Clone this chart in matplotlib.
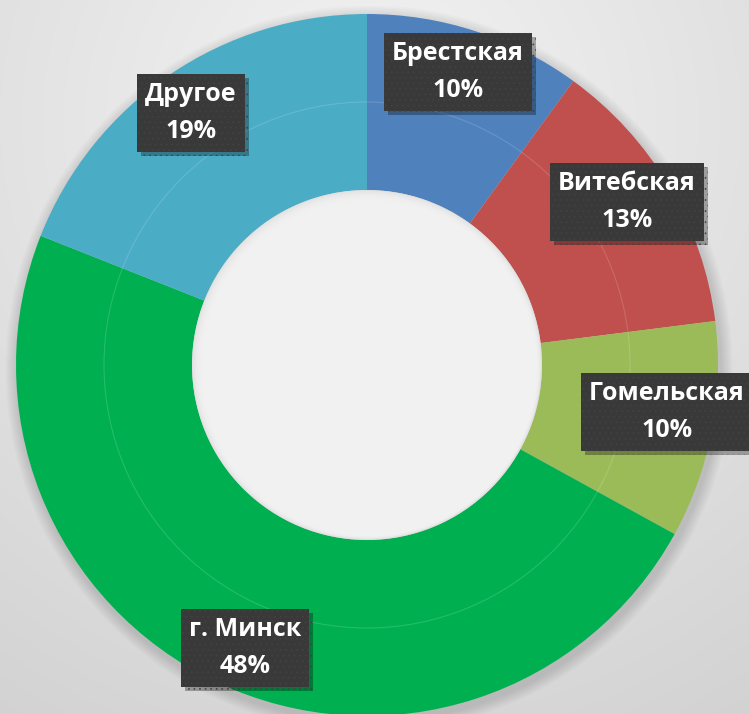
import numpy as np
import matplotlib.pyplot as plt
from matplotlib import patheffects
from matplotlib.patches import Circle

# data
regions = ['Брестская', 'Витебская', 'Гомельская', 'г. Минск', 'Другое']
shares = [10, 13, 10, 48, 19]
colors = ['#4F81BD', '#C0504D', '#9BBB59', '#00B050', '#4BACC6']

# label box centres, pixel coords (y from top)
label_pos = [(458, 72), (627, 202), (667, 412), (245, 648), (191, 113)]

W, H = 749, 714
cx, cy = 367, H - 365
R, r_in = 351, 175

fig = plt.figure(figsize=(W / 100, H / 100), dpi=100)
ax = fig.add_axes([0, 0, 1, 1])

# background gradient
yy, xx = np.mgrid[0:H, 0:W]
d = np.sqrt(((xx - 370) / 700.0) ** 2 + ((yy - 120) / 700.0) ** 2)
g = 0.955 - 0.13 * np.clip(d, 0, 1)
bg = np.dstack([g, g, g])
ax.imshow(bg, extent=[0, W, 0, H], origin='upper', zorder=0)

# soft shadow behind the ring
for k in range(8):
    ax.add_patch(Circle((cx + 2, cy - 4), R + 2 + k * 1.5, color='black',
                        alpha=0.015, lw=0, zorder=1))

wedges, _ = ax.pie(shares, colors=colors, startangle=90, counterclock=False,
                   radius=R, center=(cx, cy),
                   wedgeprops=dict(width=R - r_in, linewidth=0))
for w in wedges:
    w.set_zorder(2)

# faint boundary of inner / outer ring
ax.add_patch(Circle((cx, cy), 263, fill=False, ec='white', lw=0.8,
                    alpha=0.15, zorder=3))

# hole with slight inner shading
ax.add_patch(Circle((cx, cy), r_in, color='#e0e0e0', lw=0, zorder=3))
for k in range(10):
    ax.add_patch(Circle((cx + 0.4 * k, cy - 0.6 * k), r_in - 1 - k * 1.2,
                        color='#f3f3f3', alpha=0.35, lw=0, zorder=3))

ax.set_xlim(0, W)
ax.set_ylim(0, H)
ax.set_aspect('equal')
ax.axis('off')

plt.rcParams['hatch.linewidth'] = 0.5
for name, val, (lx, ly) in zip(regions, shares, label_pos):
    t = ax.text(lx, H - ly, f'{name}\n{val}%', ha='center', va='center',
                color='white', fontsize=18, fontweight='bold',
                family=['Open Sans', 'DejaVu Sans'], linespacing=1.65,
                zorder=5,
                bbox=dict(boxstyle='square,pad=0.32', fc='#393939',
                          ec='#424242', lw=0, hatch='...'))
    t.get_bbox_patch().set_path_effects([
        patheffects.SimplePatchShadow(offset=(3, -3), shadow_rgbFace='black',
                                      alpha=0.3),
        patheffects.Normal()])

fig.savefig('out.png', dpi=100)
